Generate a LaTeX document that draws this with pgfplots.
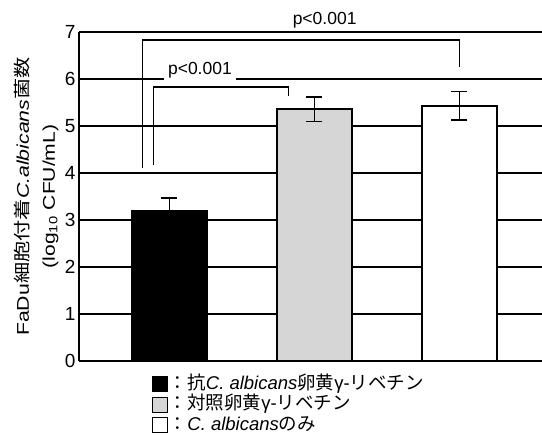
\documentclass[border=0pt]{standalone}
\usepackage{fontspec}
\setmainfont{Liberation Sans}
\newfontfamily\jp{Noto Sans CJK JP}
\usepackage{pgfplots}
\pgfplotsset{compat=1.18}
\newcommand\J[1]{{\jp #1}}
\begin{document}
\begin{tikzpicture}
\useasboundingbox (0,0) rectangle (542pt,435pt);
\begin{axis}[
  at={(79pt,74pt)}, anchor=south west,
  scale only axis, width=463pt, height=329pt,
  xmin=-0.624, xmax=2.569, ymin=0, ymax=7,
  axis lines*=left, axis line style={line width=1.5pt},
  xtick=\empty, ytick={0,1,2,3,4,5,6,7}, major tick length=0pt,
  ymajorgrids, grid style={black, line width=1.2pt},
  /pgf/number format/assume math mode=true,
  tick label style={font=\fontsize{19}{19}\selectfont},
  ylabel={\scalebox{1.25}[1]{FaDu\J{細胞付着}\textit{C.albicans}\J{菌数}}\\\scalebox{1.24}[1]{(log\textsubscript{10} CFU/mL)}},
  ylabel style={align=center, font=\fontsize{17}{26}\selectfont, inner sep=3pt},
  clip=false,
  legend style={draw=none, fill=none, at={(0.1577,-0.041)}, anchor=north west,
    font=\fontsize{18.5}{18.5}\selectfont, inner sep=0pt, row sep=1.5pt,
    nodes={inner sep=0.5pt, text height=14pt, text depth=4pt, anchor=west}},
  legend cell align=left,
  legend image code/.code={\draw[#1, line width=1.2pt] (0pt,-7.5pt) rectangle (15pt,7.5pt);},
]
\addplot[ybar, bar shift=0pt, bar width=75pt, fill=black, draw=black, line width=1.5pt,
  error bars/.cd, y dir=both, y explicit,
  error bar style={line width=1.5pt, black},
  error mark options={rotate=90, mark size=8pt, line width=1.5pt, black}]
  coordinates {(0,3.19) +- (0,0.28)};
\addlegendentry{\J{：抗}\textit{C. albicans}\J{卵黄}γ-\J{リベチン}}
\addplot[ybar, bar shift=0pt, bar width=75pt, fill=black!16, draw=black, line width=1.5pt,
  error bars/.cd, y dir=both, y explicit,
  error bar style={line width=1.5pt, black},
  error mark options={rotate=90, mark size=8pt, line width=1.5pt, black}]
  coordinates {(1,5.36) +- (0,0.26)};
\addlegendentry{\J{：対照卵黄}γ-\J{リベチン}}
\addplot[ybar, bar shift=0pt, bar width=75pt, fill=white, draw=black, line width=1.5pt,
  error bars/.cd, y dir=both, y explicit,
  error bar style={line width=1.5pt, black},
  error mark options={rotate=90, mark size=8pt, line width=1.5pt, black}]
  coordinates {(2,5.43) +- (0,0.30)};
\addlegendentry{\J{：}\textit{C. albicans}\J{のみ}}
\draw[line width=1.5pt] (axis cs:-0.186,4.1) -- (axis cs:-0.186,6.83) -- (axis cs:2.0,6.83) -- (axis cs:2.0,6.26);
\draw[line width=1.5pt] (axis cs:-0.11,4.17) -- (axis cs:-0.11,5.83) -- (axis cs:0.82,5.83) -- (axis cs:0.82,5.64);
\node[fill=white, inner xsep=4pt, inner ysep=3.5pt, anchor=base, font=\fontsize{17.5}{18}\selectfont] at (axis cs:0.21,6.1) {p<0.001};
\node[anchor=base, font=\fontsize{17.5}{18}\selectfont] at (axis cs:1.07,7.15) {p<0.001};
\end{axis}
\end{tikzpicture}
\end{document}
